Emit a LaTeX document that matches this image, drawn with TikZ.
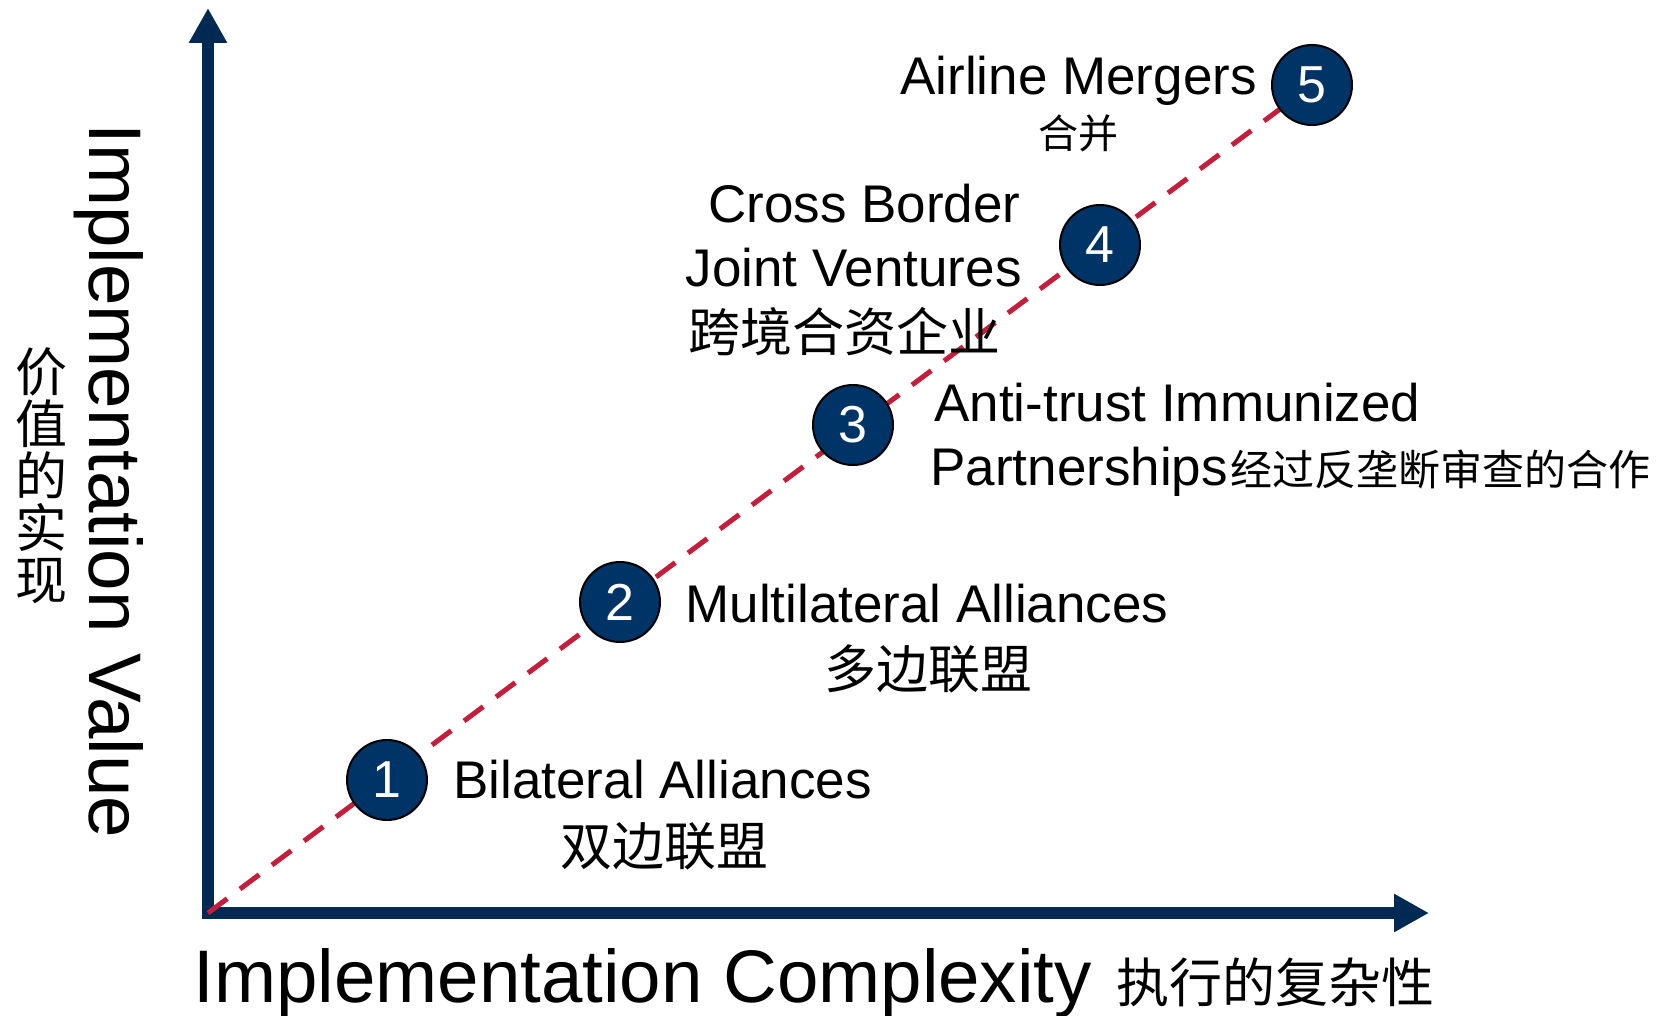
\documentclass[tikz,border=0pt]{standalone}
\usepackage{fontspec}
\setmainfont{Liberation Sans}
\newfontfamily\cjk{Noto Sans CJK SC}
\usetikzlibrary{arrows.meta,backgrounds}
\definecolor{axisblue}{RGB}{0,42,84}
\definecolor{circblue}{RGB}{0,51,102}
\definecolor{dashred}{RGB}{196,30,58}
\newcommand{\myfs}[1]{\fontsize{#1}{#1}\selectfont}
\begin{document}
\begin{tikzpicture}[x=0.5pt,y=-0.5pt,
  numcirc/.style={circle, draw=black, line width=1pt, fill=circblue, minimum size=40pt, inner sep=0pt, text=white, font=\myfs{26}},
  lbl/.style={inner sep=0pt, font=\myfs{26.5}},
  cjklbl/.style={inner sep=0pt, font=\cjk\myfs{26}},
  axislbl/.style={inner sep=0pt, font=\myfs{37.25}},
  axisline/.style={draw=axisblue, line width=5.75pt, line join=miter, {Triangle[length=17.5pt,width=18pt]}-{Triangle[length=17.5pt,width=18pt]}},
  trend/.style={draw=dashred, line width=2.5pt, dash pattern=on 12pt off 8pt}
]
\useasboundingbox (0,0) rectangle (1672,1016);
\coordinate (o) at (208,913);
\coordinate (ytip) at (208,8);
\coordinate (xtip) at (1429,913);

\node[numcirc] (c1) at (387,780) {1};
\node[numcirc] (c2) at (620,602) {2};
\node[numcirc] (c3) at (853,425) {3};
\node[numcirc] (c4) at (1100,245) {4};
\node[numcirc] (c5) at (1312,85) {5};

\begin{pgfonlayer}{background}
\draw[axisline] (ytip) -- (o) -- (xtip);
\draw[trend] (o) -- (c5.center);
\end{pgfonlayer}

\node[lbl, anchor=base west] (l5) at (900,95) {Airline Mergers};
\node[cjklbl, font=\cjk\myfs{20}, anchor=base] (z5) at (1078,149) {合并};
\node[lbl, anchor=base east] (l4a) at (1021,223) {Cross Border};
\node[lbl, anchor=base east] (l4b) at (1022,287) {Joint Ventures};
\node[cjklbl, anchor=base west] (z4) at (688,352) {跨境合资企业};
\node[lbl, anchor=base west] (l3a) at (934,422) {Anti-trust Immunized};
\node[lbl, anchor=base west] (l3b) at (930,486) {Partnerships};
\node[inner sep=0pt, font=\cjk\myfs{21}, anchor=base west] (z3) at ([xshift=1pt]l3b.base east) {经过反垄断审查的合作};
\node[lbl, anchor=base west] (l2) at (685,622) {Multilateral Alliances};
\node[cjklbl, anchor=base] (z2) at (928,688) {多边联盟};
\node[lbl, anchor=base west] (l1) at (453,798) {Bilateral Alliances};
\node[cjklbl, anchor=base] (z1) at (664,865) {双边联盟};
\node[axislbl, anchor=base west] (xl) at (193,1002) {Implementation Complexity};
\node[cjklbl, font=\cjk\myfs{26.5}, anchor=base west] (xz) at ([xshift=12pt]xl.base east) {执行的复杂性};
\node[axislbl, anchor=base west, rotate=-90] (yl) at (90,123) {Implementation Value};
\node[cjklbl, align=center] (yz) at (42,476) {价\\值\\的\\实\\现};
\end{tikzpicture}
\end{document}
